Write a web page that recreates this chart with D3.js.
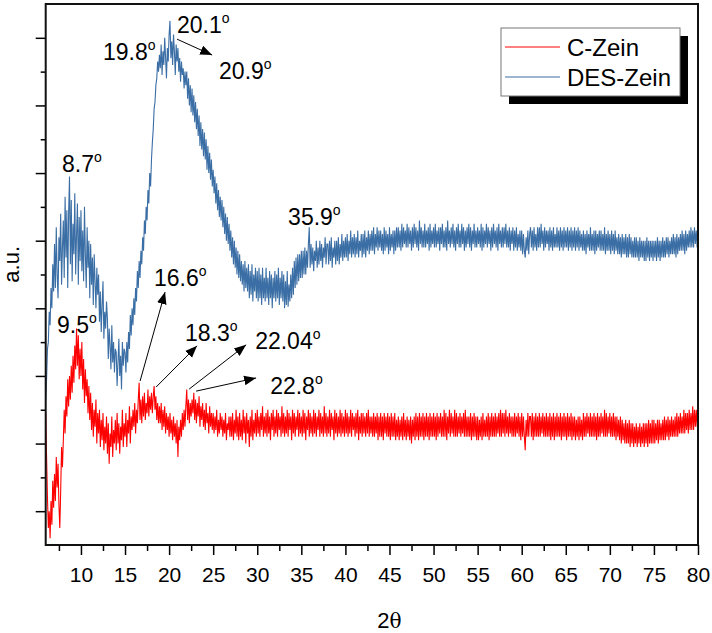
<!DOCTYPE html>
<html>
<head>
<meta charset="utf-8">
<script src="https://cdn.jsdelivr.net/npm/d3@7/dist/d3.min.js"></script>
<style>
  body { margin: 0; background: #fff; }
  text { font-family: "Liberation Sans", Arial, sans-serif; fill: #000; }
</style>
</head>
<body>
<div id="chart"></div>
<script>
// 2θ sampling: one row per degree starting at 6°, values every 0.1°
const thetaStart = 6, thetaStep = 0.1;

// DES-Zein intensity (a.u.)
const desZeinRows = [
  [4.3, 4.9, 5.8, 6.0, 6.9, 6.5, 7.6, 7.0, 8.3, 7.5],      // 6
  [8.9, 7.6, 9.4, 8.0, 7.3, 9.1, 8.4, 9.8, 7.7, 8.8],      // 7
  [9.6, 7.9, 10.3, 8.5, 9.9, 7.6, 9.8, 10.9, 8.3, 10.2],   // 8
  [7.8, 9.5, 8.6, 10.4, 8.0, 9.2, 10.1, 7.7, 9.7, 8.4],    // 9
  [9.9, 8.1, 9.3, 7.8, 10.0, 8.6, 7.6, 9.4, 8.2, 9.0],     // 10
  [7.3, 8.9, 7.7, 8.5, 7.1, 8.6, 7.8, 7.0, 8.2, 7.4],      // 11
  [8.0, 6.6, 7.5, 6.3, 7.1, 7.8, 6.1, 6.9, 6.4, 7.2],      // 12
  [6.7, 5.5, 6.4, 5.9, 5.2, 6.5, 5.4, 6.0, 5.1, 5.8],      // 13
  [5.7, 4.7, 5.4, 6.1, 5.0, 5.6, 4.6, 6.0, 5.3, 5.8],      // 14
  [5.7, 5.1, 6.0, 5.4, 6.3, 5.8, 6.8, 6.2, 7.0, 6.5],      // 15
  [7.3, 6.8, 7.6, 7.2, 8.1, 7.6, 8.4, 7.9, 8.7, 8.3],      // 16
  [9.1, 8.7, 9.6, 9.2, 10.0, 9.6, 10.5, 10.1, 11.0, 10.6], // 17
  [11.4, 11.9, 12.3, 12.9, 13.1, 13.6, 13.8, 14.3, 14.0, 14.5], // 18
  [14.1, 14.8, 13.9, 14.6, 14.2, 15.0, 14.4, 13.8, 14.7, 14.3], // 19
  [15.1, 15.5, 14.4, 14.9, 14.2, 15.1, 14.6, 13.9, 14.8, 14.3], // 20
  [14.7, 14.0, 14.4, 13.7, 14.3, 13.9, 14.1, 13.5, 14.0, 13.6], // 21
  [14.0, 13.2, 13.8, 13.0, 13.6, 12.8, 13.5, 12.7, 13.3, 12.5], // 22
  [13.1, 12.3, 12.9, 12.1, 12.7, 11.8, 12.5, 11.7, 12.3, 11.5], // 23
  [12.2, 11.4, 12.0, 11.1, 11.8, 11.0, 11.6, 10.8, 11.4, 10.6], // 24
  [11.1, 10.4, 10.9, 10.1, 10.7, 9.9, 10.5, 9.7, 10.3, 9.6],    // 25
  [10.2, 9.4, 10.0, 9.2, 9.8, 9.0, 9.7, 8.9, 9.5, 8.7],    // 26
  [9.3, 8.5, 9.1, 8.3, 9.0, 8.2, 8.8, 8.0, 8.7, 7.9],      // 27
  [8.6, 7.8, 8.4, 7.7, 8.3, 7.5, 8.4, 7.6, 8.2, 7.5],      // 28
  [8.3, 7.3, 8.1, 7.4, 8.3, 7.2, 8.0, 7.5, 8.2, 7.3],      // 29
  [8.1, 7.2, 8.2, 7.3, 8.0, 7.1, 8.2, 7.3, 7.9, 7.2],      // 30
  [8.2, 7.3, 7.9, 7.1, 8.1, 7.3, 8.0, 7.0, 7.9, 7.3],      // 31
  [8.1, 7.2, 8.0, 7.3, 8.2, 7.1, 7.9, 7.3, 8.1, 7.2],      // 32
  [8.0, 7.0, 7.8, 7.1, 8.1, 7.05, 7.7, 7.2, 8.0, 7.3],     // 33
  [8.2, 7.4, 8.4, 7.6, 8.5, 7.7, 8.6, 7.8, 8.6, 7.9],      // 34
  [8.7, 7.9, 8.7, 8.0, 8.8, 8.0, 8.7, 8.2, 8.9, 9.4],      // 35
  [8.2, 8.9, 8.3, 8.8, 8.1, 8.7, 8.4, 9.0, 8.2, 8.8],      // 36
  [8.3, 9.0, 8.4, 8.9, 8.2, 8.8, 8.5, 9.1, 8.3, 8.9],      // 37
  [8.9, 8.3, 9.0, 8.4, 9.1, 8.2, 8.8, 8.5, 9.0, 8.3],      // 38
  [9.0, 8.4, 9.1, 8.3, 8.9, 8.5, 9.2, 8.4, 9.0, 8.5],      // 39
  [9.1, 8.5, 9.2, 8.4, 9.0, 8.6, 9.3, 8.5, 9.1, 8.6],      // 40
  [9.2, 8.5, 9.1, 8.6, 9.3, 8.5, 9.0, 8.7, 9.2, 8.5],      // 41
  [9.2, 8.6, 9.3, 8.5, 9.1, 8.7, 9.3, 8.6, 9.2, 8.7],      // 42
  [9.3, 8.7, 9.4, 8.6, 9.2, 8.8, 9.4, 8.7, 9.3, 8.8],      // 43
  [9.3, 8.7, 9.2, 8.6, 9.4, 8.7, 9.3, 8.8, 9.2, 8.6],      // 44
  [9.4, 8.7, 9.2, 8.8, 9.3, 8.6, 9.3, 8.7, 9.4, 8.8],      // 45
  [9.4, 8.8, 9.3, 8.7, 9.5, 8.8, 9.4, 8.9, 9.3, 8.8],      // 46
  [9.5, 8.8, 9.4, 8.9, 9.3, 8.7, 9.4, 8.8, 9.5, 8.9],      // 47
  [9.4, 8.8, 9.3, 8.7, 9.6, 8.9, 9.4, 8.8, 9.3, 8.8],      // 48
  [9.5, 8.8, 9.3, 8.9, 9.4, 8.7, 9.5, 8.8, 9.3, 8.9],      // 49
  [9.4, 8.8, 9.5, 8.8, 9.3, 8.9, 9.4, 8.7, 9.4, 8.9],      // 50
  [9.5, 8.8, 9.3, 8.8, 9.4, 8.7, 9.6, 8.9, 9.3, 8.8],      // 51
  [9.4, 8.9, 9.5, 8.8, 9.3, 8.7, 9.4, 8.9, 9.5, 8.8],      // 52
  [9.3, 8.8, 9.5, 8.9, 9.4, 8.7, 9.3, 8.8, 9.4, 8.9],      // 53
  [9.5, 8.8, 9.4, 8.7, 9.3, 8.9, 9.5, 8.8, 9.3, 8.8],      // 54
  [9.4, 8.9, 9.3, 8.8, 9.5, 8.7, 9.4, 8.8, 9.3, 8.9],      // 55
  [9.5, 8.8, 9.4, 8.9, 9.3, 8.7, 9.4, 8.8, 9.5, 8.9],      // 56
  [9.3, 8.8, 9.4, 8.7, 9.5, 8.9, 9.3, 8.8, 9.4, 8.8],      // 57
  [9.4, 8.9, 9.5, 8.8, 9.3, 8.8, 9.4, 8.7, 9.3, 8.9],      // 58
  [9.4, 8.7, 9.3, 8.8, 9.4, 8.7, 9.2, 8.8, 9.3, 8.7],      // 59
  [9.3, 8.6, 9.2, 8.7, 8.5, 9.1, 8.7, 9.3, 8.6, 9.2],      // 60
  [9.4, 8.8, 9.3, 8.7, 9.4, 8.8, 9.2, 8.7, 9.4, 8.8],      // 61
  [9.4, 8.8, 9.5, 8.9, 9.3, 8.7, 9.4, 8.8, 9.3, 8.9],      // 62
  [9.3, 8.7, 9.4, 8.8, 9.3, 8.7, 9.4, 8.8, 9.2, 8.8],      // 63
  [9.4, 8.8, 9.3, 8.7, 9.4, 8.8, 9.3, 8.7, 9.4, 8.8],      // 64
  [9.3, 8.8, 9.4, 8.7, 9.3, 8.8, 9.4, 8.7, 9.3, 8.8],      // 65
  [9.4, 8.7, 9.3, 8.8, 9.4, 8.7, 9.3, 8.8, 9.2, 8.7],      // 66
  [9.3, 8.7, 9.2, 8.6, 9.3, 8.8, 9.2, 8.7, 9.4, 8.7],      // 67
  [9.2, 8.7, 9.3, 8.6, 9.3, 8.7, 9.2, 8.8, 9.3, 8.7],      // 68
  [9.3, 8.7, 9.2, 8.7, 9.4, 8.6, 9.2, 8.7, 9.3, 8.7],      // 69
  [9.2, 8.6, 9.3, 8.7, 9.2, 8.6, 9.3, 8.7, 9.1, 8.6],      // 70
  [9.2, 8.6, 9.1, 8.5, 9.2, 8.6, 9.1, 8.6, 9.2, 8.5],      // 71
  [9.1, 8.5, 9.2, 8.6, 9.1, 8.5, 9.0, 8.5, 9.1, 8.5],      // 72
  [9.1, 8.5, 9.0, 8.4, 9.1, 8.5, 9.0, 8.5, 9.0, 8.4],      // 73
  [9.0, 8.4, 9.1, 8.5, 9.0, 8.4, 9.0, 8.5, 9.0, 8.4],      // 74
  [9.0, 8.5, 9.0, 8.4, 9.1, 8.5, 9.0, 8.4, 9.0, 8.5],      // 75
  [9.1, 8.5, 9.0, 8.5, 9.1, 8.6, 9.1, 8.5, 9.0, 8.6],      // 76
  [9.1, 8.6, 9.2, 8.6, 9.1, 8.5, 9.2, 8.6, 9.1, 8.7],      // 77
  [9.2, 8.7, 9.3, 8.7, 9.2, 8.6, 9.3, 8.7, 9.2, 8.8],      // 78
  [9.3, 8.8, 9.4, 8.8, 9.3, 8.8, 9.4, 8.9, 9.3, 8.8],      // 79
  [9.2]                                                    // 80
];

// C-Zein intensity (a.u.)
const cZeinRows = [
  [3.9, 2.6, 1.4, 0.5, 1.0, 0.2, 1.3, 0.6, 1.9, 1.1],      // 6
  [2.1, 1.3, 2.6, 1.7, 2.4, 1.2, 0.5, 1.6, 2.9, 2.3],      // 7
  [3.1, 4.0, 3.3, 4.4, 3.8, 4.9, 4.1, 5.0, 4.3, 5.3],      // 8
  [4.5, 5.6, 4.8, 5.9, 5.2, 6.4, 5.3, 6.2, 4.9, 5.8],      // 9
  [5.0, 6.0, 4.6, 5.5, 4.2, 5.2, 4.4, 4.9, 3.9, 4.7],      // 10
  [3.7, 4.5, 3.4, 4.2, 3.2, 4.0, 3.5, 4.3, 3.0, 3.9],      // 11
  [3.3, 4.0, 2.9, 3.7, 3.1, 3.9, 2.8, 3.5, 3.0, 3.8],      // 12
  [2.7, 3.6, 2.4, 3.3, 2.9, 3.8, 2.6, 3.4, 3.0, 3.7],      // 13
  [2.8, 3.9, 3.0, 3.6, 2.7, 3.5, 3.1, 4.0, 2.9, 3.6],      // 14
  [3.2, 3.9, 2.9, 3.7, 3.3, 4.1, 3.0, 3.8, 3.4, 4.0],      // 15
  [3.5, 4.2, 3.3, 4.0, 3.6, 4.3, 4.8, 3.7, 4.3, 3.6],      // 16
  [4.4, 3.8, 4.5, 3.7, 4.2, 3.9, 4.6, 3.8, 4.4, 4.0],      // 17
  [4.5, 3.9, 4.4, 4.7, 4.0, 4.4, 3.7, 4.2, 3.6, 4.1],      // 18
  [3.6, 4.2, 3.4, 4.0, 3.5, 4.1, 3.3, 3.9, 3.4, 3.8],      // 19
  [3.2, 3.9, 3.3, 3.7, 3.1, 3.8, 3.2, 3.6, 3.0, 3.7],      // 20
  [2.6, 3.5, 3.1, 3.7, 3.2, 3.9, 3.4, 4.0, 3.5, 4.1],      // 21
  [4.6, 3.7, 4.3, 3.6, 4.2, 3.8, 4.3, 3.9, 4.5, 3.7],      // 22
  [4.3, 3.6, 4.2, 3.8, 4.4, 3.5, 4.1, 3.7, 4.2, 3.5],      // 23
  [4.0, 3.4, 4.2, 3.6, 3.9, 3.3, 4.1, 3.5, 3.9, 3.4],      // 24
  [3.9, 3.3, 3.8, 3.4, 4.0, 3.2, 3.7, 3.3, 3.9, 3.4],      // 25
  [3.8, 3.2, 3.7, 3.3, 3.9, 3.1, 3.6, 3.4, 3.8, 3.2],      // 26
  [3.8, 3.2, 3.9, 3.1, 3.7, 3.3, 4.0, 3.2, 3.8, 3.1],      // 27
  [3.9, 3.2, 3.7, 3.1, 4.0, 3.3, 3.8, 3.0, 3.9, 3.3],      // 28
  [3.7, 2.9, 3.8, 3.2, 4.0, 3.1, 3.7, 3.3, 3.9, 3.2],      // 29
  [4.0, 3.3, 3.8, 3.2, 3.9, 3.4, 4.1, 3.2, 3.8, 3.3],      // 30
  [3.9, 3.2, 4.0, 3.3, 3.8, 3.1, 3.9, 3.4, 4.0, 3.2],      // 31
  [3.8, 3.3, 4.0, 3.2, 3.9, 3.4, 3.8, 3.2, 4.1, 3.3],      // 32
  [3.9, 3.2, 3.8, 3.3, 4.0, 3.2, 3.9, 3.4, 3.8, 3.1],      // 33
  [4.0, 3.3, 3.9, 3.2, 3.8, 3.4, 4.0, 3.2, 3.9, 3.3],      // 34
  [3.8, 3.2, 4.0, 3.3, 3.9, 3.1, 3.8, 3.4, 4.0, 3.2],      // 35
  [3.9, 3.3, 3.8, 3.2, 4.0, 3.3, 3.9, 3.2, 3.8, 3.4],      // 36
  [4.0, 3.2, 3.9, 3.3, 3.8, 3.2, 4.1, 3.3, 3.9, 3.2],      // 37
  [3.8, 3.3, 4.0, 3.2, 3.9, 3.4, 3.8, 3.1, 4.0, 3.3],      // 38
  [3.9, 3.2, 3.8, 3.3, 4.0, 3.2, 3.9, 3.3, 3.8, 3.2],      // 39
  [4.0, 3.3, 3.9, 3.2, 3.8, 3.3, 4.0, 3.2, 3.9, 3.4],      // 40
  [3.8, 3.2, 3.9, 3.3, 4.0, 3.1, 3.8, 3.3, 3.9, 3.2],      // 41
  [3.9, 3.3, 3.8, 3.2, 3.9, 3.3, 4.0, 3.2, 3.8, 3.3],      // 42
  [3.8, 3.2, 3.9, 3.2, 3.8, 3.3, 3.9, 3.1, 3.8, 3.2],      // 43
  [3.9, 3.2, 3.8, 3.1, 3.9, 3.3, 3.8, 3.2, 3.9, 3.2],      // 44
  [3.8, 3.1, 3.9, 3.2, 3.8, 3.2, 3.9, 3.1, 3.7, 3.2],      // 45
  [3.8, 3.1, 3.7, 3.2, 3.8, 3.1, 3.9, 3.2, 3.7, 3.1],      // 46
  [3.8, 3.2, 3.7, 3.1, 3.8, 3.0, 3.7, 3.2, 3.8, 3.1],      // 47
  [3.9, 3.2, 3.8, 3.1, 3.9, 3.2, 3.8, 3.2, 3.9, 3.1],      // 48
  [3.8, 3.2, 3.9, 3.2, 3.8, 3.1, 3.9, 3.2, 3.8, 3.2],      // 49
  [3.9, 3.2, 3.8, 3.1, 3.9, 3.2, 3.8, 3.3, 3.9, 3.2],      // 50
  [3.8, 3.2, 4.0, 3.2, 3.9, 3.1, 3.8, 3.3, 4.0, 3.2],      // 51
  [3.9, 3.3, 3.8, 3.2, 4.0, 3.2, 3.9, 3.2, 3.8, 3.3],      // 52
  [3.9, 3.2, 3.8, 3.3, 3.9, 3.2, 4.0, 3.2, 3.8, 3.2],      // 53
  [3.8, 3.2, 3.9, 3.1, 3.8, 3.2, 3.9, 3.2, 3.8, 3.1],      // 54
  [3.8, 3.1, 3.7, 3.2, 3.8, 3.1, 3.9, 3.2, 3.7, 3.2],      // 55
  [3.8, 3.2, 3.9, 3.1, 3.8, 3.2, 3.9, 3.2, 3.8, 3.2],      // 56
  [3.9, 3.2, 3.8, 3.3, 3.9, 3.2, 4.0, 3.2, 3.9, 3.3],      // 57
  [3.9, 3.2, 4.0, 3.3, 3.8, 3.2, 3.9, 3.3, 3.8, 3.2],      // 58
  [3.8, 3.2, 3.9, 3.2, 3.8, 3.3, 3.9, 3.2, 3.8, 3.1],      // 59
  [3.9, 3.2, 3.8, 3.2, 2.8, 3.7, 3.2, 3.9, 3.2, 3.8],      // 60
  [3.8, 3.2, 3.9, 3.1, 3.8, 3.2, 3.9, 3.2, 3.8, 3.2],      // 61
  [3.9, 3.2, 3.8, 3.3, 3.9, 3.2, 3.8, 3.2, 3.9, 3.2],      // 62
  [3.8, 3.2, 3.9, 3.1, 3.8, 3.2, 3.9, 3.1, 3.8, 3.2],      // 63
  [3.9, 3.2, 3.8, 3.2, 3.9, 3.1, 3.8, 3.2, 3.9, 3.2],      // 64
  [3.8, 3.1, 3.9, 3.2, 3.8, 3.2, 3.9, 3.1, 3.8, 3.2],      // 65
  [3.8, 3.1, 3.7, 3.2, 3.8, 3.1, 3.8, 3.2, 3.7, 3.1],      // 66
  [3.9, 3.2, 3.8, 3.2, 3.9, 3.3, 3.8, 3.2, 3.9, 3.2],      // 67
  [3.8, 3.2, 3.9, 3.2, 3.8, 3.1, 3.9, 3.2, 3.8, 3.2],      // 68
  [3.9, 3.3, 3.8, 3.2, 4.0, 3.2, 3.9, 3.2, 3.8, 3.3],      // 69
  [3.9, 3.2, 3.8, 3.2, 3.9, 3.2, 3.8, 3.1, 3.8, 3.2],      // 70
  [3.7, 3.1, 3.8, 3.0, 3.7, 3.1, 3.6, 3.0, 3.7, 3.0],      // 71
  [3.6, 3.0, 3.7, 2.9, 3.6, 3.0, 3.6, 2.9, 3.5, 3.0],      // 72
  [3.6, 2.9, 3.5, 3.0, 3.6, 2.9, 3.5, 3.0, 3.6, 2.9],      // 73
  [3.6, 3.0, 3.6, 2.9, 3.7, 3.0, 3.6, 3.0, 3.7, 3.0],      // 74
  [3.7, 3.0, 3.6, 3.1, 3.7, 3.0, 3.7, 3.1, 3.6, 3.1],      // 75
  [3.7, 3.1, 3.8, 3.1, 3.7, 3.2, 3.8, 3.1, 3.7, 3.2],      // 76
  [3.8, 3.2, 3.7, 3.2, 3.8, 3.2, 3.9, 3.2, 3.8, 3.3],      // 77
  [3.9, 3.3, 3.8, 3.3, 4.0, 3.3, 3.9, 3.4, 3.9, 3.3],      // 78
  [4.0, 3.4, 3.9, 3.4, 4.1, 3.4, 4.0, 3.5, 4.0, 3.5],      // 79
  [3.9]                                                    // 80
];

const seriesNames = ["C-Zein", "DES-Zein"];
const seriesColors = ["#ff0000", "#3a6ea5"];

const xMajorTicks = [10, 15, 20, 25, 30, 35, 40, 45, 50, 55, 60, 65, 70, 75, 80];
const xMinorTicks = [7.5, 12.5, 17.5, 22.5, 27.5, 32.5, 37.5, 42.5, 47.5, 52.5, 57.5, 62.5, 67.5, 72.5, 77.5];
const yMajorTicks = [1, 3, 5, 7, 9, 11, 13, 15];
const yMinorTicks = [2, 4, 6, 8, 10, 12, 14];

// peak labels: text start (2θ, a.u.) at baseline
const peakLabels = [
  {label: "20.1", x: 20.9, y: 15.14},
  {label: "19.8", x: 12.5, y: 14.34},
  {label: "20.9", x: 25.67, y: 13.78},
  {label: "8.7", x: 7.85, y: 11.03},
  {label: "35.9", x: 33.5, y: 9.46},
  {label: "9.5", x: 7.28, y: 6.27},
  {label: "16.6", x: 18.29, y: 7.66},
  {label: "18.3", x: 21.81, y: 6.03},
  {label: "22.04", x: 29.76, y: 5.80},
  {label: "22.8", x: 31.46, y: 4.47}
];

// arrows from peak to label
const peakArrows = [
  {x1: 20.9, y1: 14.96, x2: 24.88, y2: 14.49},
  {x1: 16.71, y1: 4.85, x2: 19.54, y2: 7.48},
  {x1: 18.52, y1: 4.67, x2: 23.17, y2: 5.89},
  {x1: 22.27, y1: 4.61, x2: 28.74, y2: 5.92},
  {x1: 23.06, y1: 4.55, x2: 29.87, y2: 4.94}
];

const width = 712, height = 633;
const margin = {top: 4, right: 14, bottom: 88, left: 45.7};

//flatten rows into [2θ, value] points
function to_points(rows) {
    let pts = [];
    rows.forEach(function(row, r) {
        row.forEach(function(v, j) {
            pts.push([thetaStart + r + j * thetaStep, v]);
        });
    });
    return pts;
}

let svg = d3.select("#chart")
    .append("svg")
        .attr("width", width)
        .attr("height", height);

let x = d3.scaleLinear()
    .domain([6, 80])
    .range([margin.left, width - margin.right]);

let y = d3.scaleLinear()
    .domain([0, 16])
    .range([height - margin.bottom, margin.top]);

let defs = svg.append("defs");
defs.append("marker")
    .attr("id", "arrow")
    .attr("viewBox", "0 0 10 10")
    .attr("refX", 10)
    .attr("refY", 5)
    .attr("markerWidth", 12)
    .attr("markerHeight", 12)
    .attr("markerUnits", "userSpaceOnUse")
    .attr("orient", "auto")
  .append("path")
    .attr("d", "M0,1 L10,5 L0,9 Z")
    .attr("fill", "#000");

defs.append("clipPath")
    .attr("id", "plot-clip")
  .append("rect")
    .attr("x", x(6))
    .attr("y", y(16))
    .attr("width", x(80) - x(6))
    .attr("height", y(0) - y(16));

// curves
let line = d3.line()
    .x(d => x(d[0]))
    .y(d => y(d[1]));

let curves = svg.append("g").attr("clip-path", "url(#plot-clip)");
[cZeinRows, desZeinRows].forEach(function(rows, k) {
    curves.append("path")
        .datum(to_points(rows))
        .attr("d", line)
        .attr("fill", "none")
        .attr("stroke", seriesColors[k])
        .attr("stroke-width", 1.1);
});

// x axis: major ticks with labels, minor ticks without
let xAxis = svg.append("g")
    .attr("transform", `translate(0, ${y(0)})`)
    .call(d3.axisBottom(x).tickValues(xMajorTicks).tickSize(10).tickSizeOuter(0).tickPadding(12));
svg.append("g")
    .attr("transform", `translate(0, ${y(0)})`)
    .call(d3.axisBottom(x).tickValues(xMinorTicks).tickSize(6).tickSizeOuter(0).tickFormat(""));

// y axis: ticks only
svg.append("g")
    .attr("transform", `translate(${x(6)}, 0)`)
    .call(d3.axisLeft(y).tickValues(yMajorTicks).tickSize(10).tickSizeOuter(0).tickFormat(""));
svg.append("g")
    .attr("transform", `translate(${x(6)}, 0)`)
    .call(d3.axisLeft(y).tickValues(yMinorTicks).tickSize(5).tickSizeOuter(0).tickFormat(""));

svg.selectAll(".domain").remove();
svg.selectAll(".tick line").attr("stroke", "#000").attr("stroke-width", 1.5);
xAxis.selectAll("text")
    .style("font-size", "21px")
    .style("font-family", "Liberation Sans, Arial, sans-serif");

// frame
svg.append("rect")
    .attr("x", x(6))
    .attr("y", y(16))
    .attr("width", x(80) - x(6))
    .attr("height", y(0) - y(16))
    .attr("fill", "none")
    .attr("stroke", "#111")
    .attr("stroke-width", 2);

// axis titles
let xTitle = svg.append("text")
    .attr("x", x(45))
    .attr("y", 628)
    .attr("text-anchor", "middle")
    .style("font-size", "22px");
xTitle.append("tspan").text("2");
xTitle.append("tspan").text("θ").style("font-family", "DejaVu Serif, serif").style("font-size", "20px");

svg.append("text")
    .attr("transform", `translate(19, ${y(8.3)}) rotate(-90)`)
    .attr("text-anchor", "middle")
    .style("font-size", "22px")
    .text("a.u.");

// arrows
svg.append("g").selectAll("line")
    .data(peakArrows)
    .enter()
    .append("line")
    .attr("x1", d => x(d.x1))
    .attr("y1", d => y(d.y1))
    .attr("x2", d => x(d.x2))
    .attr("y2", d => y(d.y2))
    .attr("stroke", "#000")
    .attr("stroke-width", 1)
    .attr("marker-end", "url(#arrow)");

// peak labels with superscript degree mark
let labels = svg.append("g").selectAll("text")
    .data(peakLabels)
    .enter()
    .append("text")
    .attr("x", d => x(d.x))
    .attr("y", d => y(d.y))
    .style("font-size", "23px");
labels.append("tspan").text(d => d.label);
labels.append("tspan")
    .text("o")
    .attr("dy", -10)
    .style("font-size", "14px");

// legend with drop shadow
let legendX = 501, legendY = 28, legendW = 179, legendH = 68;
let legend = svg.append("g").attr("class", "legend");
legend.append("rect")
    .attr("x", legendX + 8)
    .attr("y", legendY + 8)
    .attr("width", legendW)
    .attr("height", legendH)
    .attr("fill", "#000");
legend.append("rect")
    .attr("x", legendX)
    .attr("y", legendY)
    .attr("width", legendW)
    .attr("height", legendH)
    .attr("fill", "#fff")
    .attr("stroke", "#777")
    .attr("stroke-width", 1);

let items = legend.selectAll("g.item")
    .data(seriesNames)
    .enter()
    .append("g")
    .attr("class", "item")
    .attr("transform", (d, i) => `translate(${legendX + 4}, ${legendY + 19 + i * 30})`);
items.append("line")
    .attr("x1", 0)
    .attr("x2", 55)
    .attr("stroke", (d, i) => seriesColors[i])
    .attr("stroke-width", 1);
items.append("text")
    .attr("x", 62)
    .attr("y", 9)
    .style("font-size", "24px")
    .text(d => d);
</script>
</body>
</html>
